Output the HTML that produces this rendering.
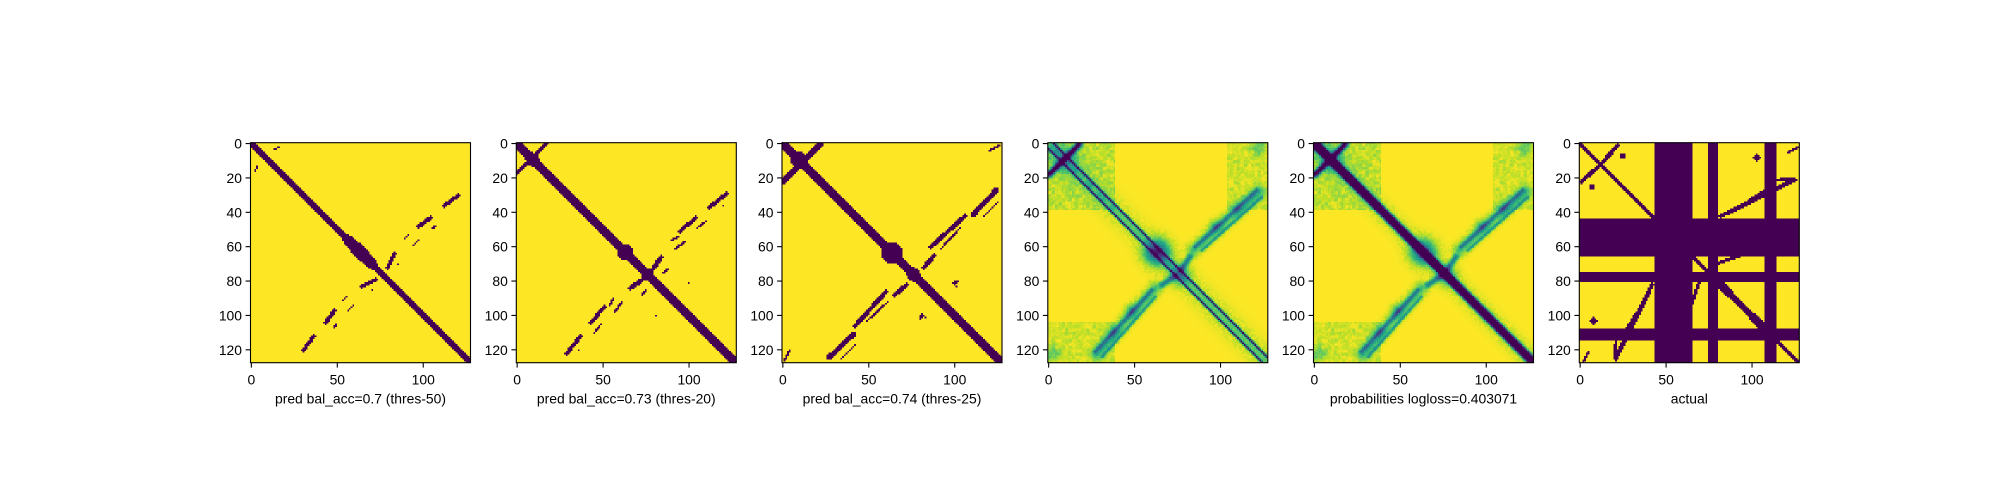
<!DOCTYPE html>
<html><head><meta charset="utf-8">
<style>
html,body{margin:0;padding:0;background:#fff;}
#wrap{position:relative;width:2000px;height:500px;overflow:hidden;background:#fff;font-family:"Liberation Sans","DejaVu Sans",sans-serif;}
canvas{position:absolute;image-rendering:pixelated;image-rendering:crisp-edges;}
svg{position:absolute;left:0;top:0;}
</style></head>
<body>
<div id="wrap">
<svg id="ov" width="2000" height="500"></svg>
</div>
<script>
// ---- data ----
const N = 128;
const panelTitles = ["pred bal_acc=0.7 (thres-50)","pred bal_acc=0.73 (thres-20)","pred bal_acc=0.74 (thres-25)","","probabilities logloss=0.403071","actual"];
const xTicks = [0,50,100];
const yTicks = [0,20,40,60,80,100,120];
// binary segments [r0,c0,r1,c1,halfwidth] (mirrored across diagonal)
const p1Segments = [[0,0,127,127,2.0],[56,56,70,70,3.0],[60,60,66,66,3.6],[3,13,2,16,0.6],[36,112,30,120,1.0],[48,97,43,104,1.2],[49,105,48,107,0.5],[55,89,53,91,0.5],[59,94,56,97,0.5],[72,79,64,83,1.2],[70,85,70,85,0.5]];
const p2Segments = [[0,0,127,127,2.2],[0,17,17,0,1.4],[9,9,9,9,4],[63,63,63,63,4.5],[76,76,76,76,3.5],[73,79,66,84,1.3],[75,85,73,88,0.7],[37,112,29,122,1.2],[36,120,36,120,0.6],[51,95,43,104,1.1],[49,105,45,110,0.6],[56,90,54,94,0.8],[61,92,57,98,0.6],[81,100,81,100,0.7]];
const p3Segments = [[0,0,127,127,2.3],[0,22,22,0,1.5],[9,9,9,9,4.5],[63,64,63,64,5.5],[76,76,76,76,4],[72,82,65,88,1.2],[41,111,27,124,1.5],[42,117,34,125,0.7],[60,86,42,106,1.3],[61,92,49,103,0.6],[4,120,1,126,0.8],[81,99,80,102,0.8],[100,82,101,83,0.7]];
const p6Segments = [[0,0,127,127,1.4],[81,82,107,106,1.8],[1,22,12,12,1.2],[7,25,7,25,1.6],[42,82,21,125,1.3],[32,100,25,112,1.0],[8,103,8,103,2],[5,121,2,127,0.8],[21,115,20,125,0.8],[70,79,65,93,1.0]];
const p6BandStart = [44,75,108];
const p6BandEnd = [66,81,115];
// continuous features [r0,c0,r1,c1,sigma,depth]
const p5Features = [[0,0,127,127,1.3,3],[0,0,127,127,4,0.12],[62,64,62,64,5,0.3],[76,76,76,76,4,0.35],[28,122,62,84,2.6,0.3],[27,121,60,85,0.8,0.35],[31,124,62,89,0.6,0.35],[38,110,38,110,2.5,0.2],[48,97,48,97,2.5,0.25],[66,82,73,77,1.2,0.5],[0,18,18,0,1.2,0.5],[9,9,9,9,6,0.2],[2,122,2,122,3,0.2]];
const p4Features = [[0,3,124,127,0.45,0.85],[0,0,127,127,1.5,0.15],[0,0,127,127,5,0.1],[62,64,62,64,5,0.35],[76,76,76,76,4,0.4],[28,122,62,84,2.6,0.3],[27,121,60,85,0.8,0.35],[31,124,62,89,0.6,0.35],[38,110,38,110,2.5,0.2],[48,97,48,97,2.5,0.25],[66,82,73,77,1.2,0.5],[0,18,18,0,1.2,0.5],[9,9,9,9,6,0.2],[2,122,2,122,3,0.2]];
// diffuse patches [r0,c0,r1,c1,depth]
const patchRects = [[0,0,38,38,0.09],[0,104,38,127,0.07]];

// ---- geometry ----
const lefts = [250.5,516.3,782,1047.8,1313.5,1579.3];
const TOP = 142.7, SIZE = 220, CELL = SIZE/N;
const ov = document.getElementById('ov');
const NS = 'http://www.w3.org/2000/svg';

const vir = [[0x44,0x01,0x54],[0x48,0x24,0x75],[0x41,0x44,0x87],[0x35,0x5f,0x8d],[0x2a,0x78,0x8e],[0x21,0x91,0x8c],[0x22,0xa8,0x84],[0x44,0xbf,0x70],[0x7a,0xd1,0x51],[0xbd,0xdf,0x26],[0xfd,0xe7,0x25]];
function viridis(t){t=Math.max(0,Math.min(1,t));const x=t*10,i=Math.min(9,Math.floor(x)),f=x-i;const a=vir[i],b=vir[i+1];return [a[0]+(b[0]-a[0])*f,a[1]+(b[1]-a[1])*f,a[2]+(b[2]-a[2])*f];}
function segDist(r,c,s){const dr=s[2]-s[0],dc=s[3]-s[1];const L=dr*dr+dc*dc;let t=L?((r-s[0])*dr+(c-s[1])*dc)/L:0;t=Math.max(0,Math.min(1,t));const pr=s[0]+t*dr-r,pc=s[1]+t*dc-c;return Math.sqrt(pr*pr+pc*pc);}
function onDiag(s){return s[0]===s[1]&&s[2]===s[3];}
function tex(r,c){const a=Math.min(r,c),b=Math.max(r,c);let h=(a*73856093)^(b*19349663);h=(h^(h>>>13))*1274126177;h=h^(h>>>16);return ((h>>>0)%1000)/1000;}

function binaryGrid(segs,bands){
  const g=[];
  for(let r=0;r<N;r++){g.push([]);for(let c=0;c<N;c++){
    let dark=false;
    for(const s of segs){ if(segDist(r,c,s)<=s[4]||segDist(c,r,s)<=s[4]){dark=true;break;} }
    if(bands){for(let k=0;k<p6BandStart.length;k++){if((r>=p6BandStart[k]&&r<p6BandEnd[k])||(c>=p6BandStart[k]&&c<p6BandEnd[k]))dark=true;}}
    g[r].push(dark?0:1);
  }}
  return g;
}
function contGrid(feats){
  const g=[];
  for(let r=0;r<N;r++){g.push([]);for(let c=0;c<N;c++){
    let v=1;
    for(const f of feats){
      const d1=segDist(r,c,f);v-=f[5]*Math.exp(-d1*d1/(2*f[4]*f[4]));
      if(!onDiag(f)){const d2=segDist(c,r,f);v-=f[5]*Math.exp(-d2*d2/(2*f[4]*f[4]));}
    }
    for(const p of patchRects){
      const inA=r>=p[0]&&r<=p[2]&&c>=p[1]&&c<=p[3];
      const inB=c>=p[0]&&c<=p[2]&&r>=p[1]&&r<=p[3];
      if(inA||inB) v-=p[4]*(0.4+1.2*tex(r>>1,c>>1));
    }
    if(v<0.97&&v>0.1) v-=0.08*(tex(r,c)-0.5);
    g[r].push(v);
  }}
  return g;
}

const grids=[binaryGrid(p1Segments),binaryGrid(p2Segments),binaryGrid(p3Segments),contGrid(p4Features),contGrid(p5Features),binaryGrid(p6Segments,true)];
const heatNames=['heatmap-pred-thres-50','heatmap-pred-thres-20','heatmap-pred-thres-25','heatmap-probabilities-a','heatmap-probabilities-b','heatmap-actual'];

function mk(tag,attrs){const e=document.createElementNS(NS,tag);for(const k in attrs)e.setAttribute(k,attrs[k]);ov.appendChild(e);return e;}

grids.forEach((g,p)=>{
  const cv=document.createElement('canvas');
  cv.width=N;cv.height=N;
  cv.style.left=lefts[p]+'px';cv.style.top=TOP+'px';cv.style.width=SIZE+'px';cv.style.height=SIZE+'px';
  
  
  const ctx=cv.getContext('2d');const im=ctx.createImageData(N,N);
  for(let r=0;r<N;r++)for(let c=0;c<N;c++){const col=viridis(g[r][c]);const i=(r*N+c)*4;im.data[i]=col[0];im.data[i+1]=col[1];im.data[i+2]=col[2];im.data[i+3]=255;}
  ctx.putImageData(im,0,0);
  document.getElementById('wrap').insertBefore(cv,ov);

  const L=lefts[p];
  const fr=mk('rect',{x:L,y:TOP,width:SIZE,height:SIZE,fill:'none',stroke:'#000','stroke-width':1.1});
  
  
  xTicks.forEach(v=>{
    const x=L+(v+0.5)*CELL;
    const tl=mk('line',{x1:x,x2:x,y1:TOP+SIZE,y2:TOP+SIZE+4.9,stroke:'#000','stroke-width':1.1});
    
    
    const t=mk('text',{x:x,y:TOP+SIZE+22,'text-anchor':'middle','font-size':13.9,fill:'#000'});
    t.textContent=v;
    
    
  });
  yTicks.forEach(v=>{
    const y=TOP+(v+0.5)*CELL;
    const tl=mk('line',{x1:L-4.9,x2:L,y1:y,y2:y,stroke:'#000','stroke-width':1.1});
    
    
    const t=mk('text',{x:L-8.5,y:y+5,'text-anchor':'end','font-size':13.9,fill:'#000'});
    t.textContent=v;
    
    
  });
  if(panelTitles[p]){
    const xl=mk('text',{x:L+SIZE/2,y:TOP+SIZE+41,'text-anchor':'middle','font-size':13.9,fill:'#000'});
    xl.textContent=panelTitles[p];
    
    
  }
});
</script>
</body></html>
